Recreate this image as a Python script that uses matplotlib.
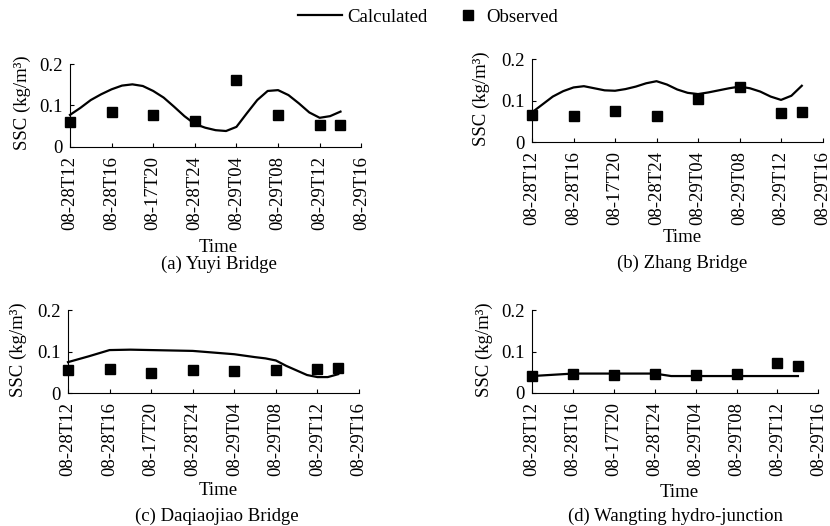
import matplotlib.pyplot as plt
from matplotlib.lines import Line2D

plt.rcParams['font.family'] = ['Liberation Serif', 'DejaVu Serif']
plt.rcParams['font.size'] = 13.5

# time labels on the x axis (positions 0..7)
time_labels = ["08-28T12", "08-28T16", "08-17T20", "08-28T24",
               "08-29T04", "08-29T08", "08-29T12", "08-29T16"]

# observed SSC (kg/m3), same sampling times for all stations
obs_t = [0, 1, 2, 3, 4, 5, 6, 6.5]
obs_a = [0.060, 0.083, 0.077, 0.063, 0.161, 0.077, 0.052, 0.052]
obs_b = [0.066, 0.064, 0.076, 0.063, 0.105, 0.133, 0.070, 0.072]
obs_c = [0.055, 0.058, 0.048, 0.056, 0.054, 0.057, 0.059, 0.062]
obs_d = [0.042, 0.047, 0.044, 0.046, 0.043, 0.046, 0.073, 0.066]

# calculated SSC
calc_t_a = [0, 0.25, 0.5, 0.75, 1, 1.25, 1.5, 1.75, 2, 2.25, 2.5, 2.75, 3,
            3.25, 3.5, 3.75, 4, 4.25, 4.5, 4.75, 5, 5.25, 5.5, 5.75, 6,
            6.25, 6.5]
calc_a = [0.077, 0.094, 0.113, 0.127, 0.139, 0.148, 0.151, 0.147, 0.135,
          0.119, 0.097, 0.074, 0.055, 0.046, 0.040, 0.038, 0.048, 0.081,
          0.113, 0.135, 0.137, 0.125, 0.105, 0.083, 0.070, 0.074, 0.085]

calc_t_b = [0, 0.25, 0.5, 0.75, 1, 1.25, 1.5, 1.75, 2, 2.25, 2.5, 2.75, 3,
            3.25, 3.5, 3.75, 4, 4.25, 4.5, 4.75, 5, 5.25, 5.5, 5.75, 6,
            6.25, 6.5]
calc_b = [0.072, 0.091, 0.110, 0.123, 0.132, 0.135, 0.130, 0.125, 0.124,
          0.128, 0.134, 0.142, 0.147, 0.139, 0.127, 0.119, 0.116, 0.120,
          0.125, 0.130, 0.134, 0.130, 0.122, 0.110, 0.102, 0.112, 0.136]

calc_t_c = [0, 0.5, 1, 1.5, 2, 3, 4, 4.5, 4.75, 5, 5.25, 5.5, 5.75, 6,
            6.25, 6.5]
calc_c = [0.075, 0.089, 0.104, 0.105, 0.104, 0.102, 0.094, 0.087, 0.084,
          0.079, 0.066, 0.055, 0.044, 0.039, 0.039, 0.046]

calc_t_d = [0, 1, 2, 3, 3.4, 4, 5, 6, 6.5]
calc_d = [0.041, 0.047, 0.047, 0.047, 0.041, 0.041, 0.041, 0.041, 0.041]

panels = [
    # rect, calc t, calc, obs, caption, time label pos, caption pos, ylabel x
    ([0.0843, 0.7211, 0.351, 0.157], calc_t_a, calc_a, obs_a,
     "(a) Yuyi Bridge", (0.508, -1.221), (0.511, -1.43), -0.134),
    ([0.641, 0.7295, 0.350, 0.158], calc_t_b, calc_b, obs_b,
     "(b) Zhang Bridge", (0.516, -1.149), (0.516, -1.46), -0.144),
    ([0.0819, 0.2523, 0.3506, 0.158], calc_t_c, calc_c, obs_c,
     "(c) Daqiaojiao Bridge", (0.515, -1.165), (0.512, -1.478), -0.141),
    ([0.641, 0.2529, 0.345, 0.157], calc_t_d, calc_d, obs_d,
     "(d) Wangting hydro-junction", (0.514, -1.205), (0.50, -1.494), -0.136),
]

fig = plt.figure(figsize=(8.3, 5.26), dpi=100)

for rect, ct, cv, ov, caption, tpos, cpos, ylx in panels:
    ax = fig.add_axes(rect)
    ax.plot(ct, cv, color='black', lw=1.6, clip_on=False)
    ax.plot(obs_t, ov, 's', color='black', ms=7, clip_on=False)

    ax.set_xlim(0, 7)
    ax.set_ylim(0, 0.2)
    ax.set_xticks(range(len(time_labels)))
    ax.set_xticklabels(time_labels, rotation=90)
    ax.set_yticks([0, 0.1, 0.2])
    ax.set_yticklabels(["0", "0.1", "0.2"])
    ax.tick_params(direction='in', length=3, width=0.8)
    ax.tick_params(axis='x', pad=6.5)
    ax.tick_params(axis='y', pad=5)
    for side in ['top', 'right']:
        ax.spines[side].set_visible(False)
    for side in ['left', 'bottom']:
        ax.spines[side].set_linewidth(0.8)

    ax.set_ylabel("SSC (kg/m³)")
    ax.yaxis.set_label_coords(ylx, 0.53)
    ax.text(tpos[0], tpos[1], "Time", transform=ax.transAxes,
            ha='center', va='center')
    ax.text(cpos[0], cpos[1], caption, transform=ax.transAxes,
            ha='center', va='center')

# legend at the top, two separate entries
calc_handle = Line2D([], [], color='black', lw=1.6)
obs_handle = Line2D([], [], ls='none', marker='s', color='black', ms=7)
leg1 = fig.legend([calc_handle], ["Calculated"], loc='center left',
                  bbox_to_anchor=(298 / 830, 1 - 17 / 526), frameon=False,
                  borderpad=0, borderaxespad=0, handlelength=2.35,
                  handletextpad=0.3)
leg2 = fig.legend([obs_handle], ["Observed"], loc='center left',
                  bbox_to_anchor=(458.6 / 830, 1 - 17 / 526), frameon=False,
                  borderpad=0, borderaxespad=0, handlelength=1.0,
                  handletextpad=0.46, numpoints=1)

fig.savefig("out.png", dpi=100)
